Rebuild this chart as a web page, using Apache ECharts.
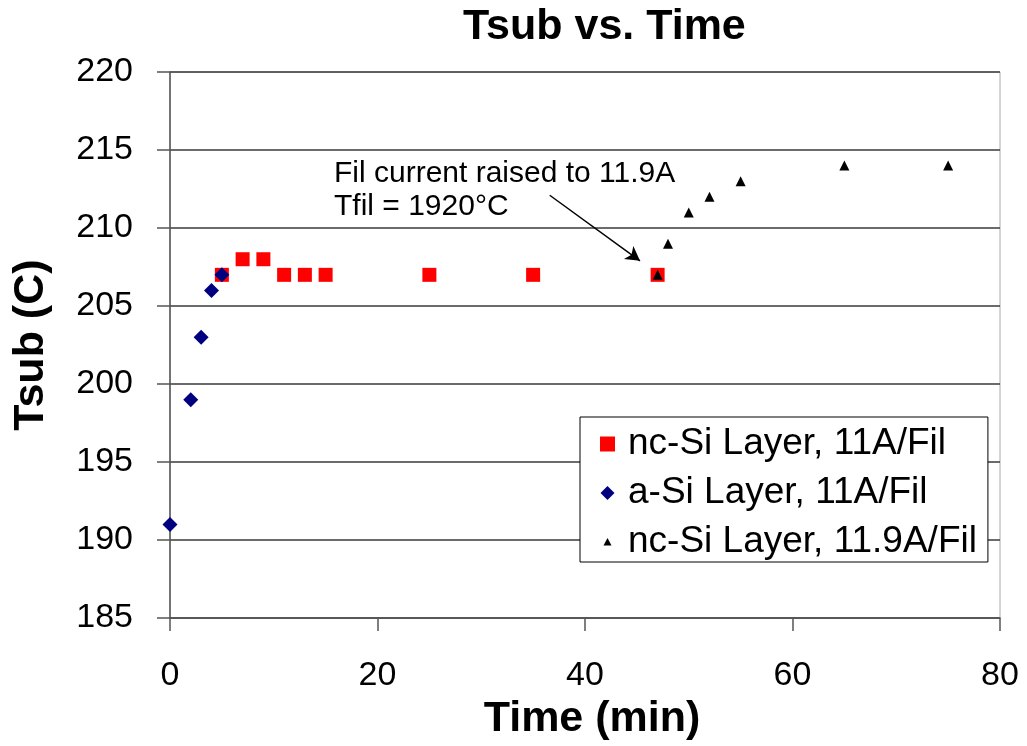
<!DOCTYPE html>
<html>
<head>
<meta charset="utf-8">
<script src="https://cdn.jsdelivr.net/npm/echarts@6/dist/echarts.min.js"></script>
<style>
  html, body { margin: 0; padding: 0; background: #fff; }
  #chart { width: 1027px; height: 746px; }
</style>
</head>
<body>
<div id="chart"></div>
<script>
// Substrate temperature readings over deposition time
const ncSi11Time = [5, 7, 9, 11, 13, 15, 25, 35, 47];
const ncSi11Temp = [207, 208, 208, 207, 207, 207, 207, 207, 207];

const aSi11Time = [0, 2, 3, 4, 5];
const aSi11Temp = [191, 199, 203, 206, 207];

const ncSi119Time = [47, 48, 50, 52, 55, 65, 75];
const ncSi119Temp = [207, 209, 211, 212, 213, 214, 214];

const seriesNames = ['nc-Si Layer, 11A/Fil', 'a-Si Layer, 11A/Fil', 'nc-Si Layer, 11.9A/Fil'];

// Arrow pointing to the moment the filament current was raised
const arrowFrom = [36.6, 212.1];
const arrowTo = [45.3, 207.9];

const pairs = (xs, ys) => xs.map((x, i) => [x, ys[i]]);

const FONT = '"Liberation Sans", Arial, sans-serif';
const boldName = { fontFamily: FONT, fontSize: 43, fontWeight: 'bold', color: '#000', verticalAlign: 'middle' };

// Legend icons drawn inside a 15x15 box so each keeps its own size
const ICON_SQUARE = 'path://M0,0 L15,0 L15,15 L0,15 Z';
const ICON_DIAMOND = 'path://M0,0 M15,15 M7.5,0.5 L14.5,7.5 L7.5,14.5 L0.5,7.5 Z';
const ICON_TRIANGLE = 'path://M0,0 M15,15 M7.5,3.5 L11.5,11 L3.5,11 Z';

const chart = echarts.init(document.getElementById('chart'), null, { renderer: 'canvas' });

chart.setOption({
  animation: false,
  backgroundColor: '#fff',
  title: {
    text: 'Tsub vs. Time',
    left: 463,
    top: 6,
    padding: 0,
    textStyle: { fontFamily: FONT, fontSize: 43, fontWeight: 'bold', color: '#000' }
  },
  grid: {
    left: 170, right: 27, top: 72, bottom: 117,
    show: true, borderColor: '#aaa', borderWidth: 1, backgroundColor: 'transparent'
  },
  xAxis: {
    type: 'value',
    min: 0, max: 80, interval: 20,
    name: 'Time (min)',
    nameLocation: 'middle',
    nameGap: 88,
    nameTextStyle: Object.assign({}, boldName, { padding: [0, 0, 0, 14] }),
    axisLine: { show: true, onZero: false, lineStyle: { color: '#555', width: 1.5 } },
    axisTick: { show: true, inside: false, length: 13, lineStyle: { color: '#555', width: 1.5 } },
    axisLabel: { fontFamily: FONT, fontSize: 34, color: '#000', margin: 41 },
    splitLine: { show: false }
  },
  yAxis: {
    type: 'value',
    min: 185, max: 220, interval: 5,
    name: 'Tsub (C)',
    nameLocation: 'middle',
    nameRotate: 90,
    nameGap: 139,
    nameTextStyle: boldName,
    axisLine: { show: true, onZero: false, lineStyle: { color: '#555', width: 1.5 } },
    axisTick: { show: true, inside: false, length: 13, lineStyle: { color: '#555', width: 1.5 } },
    axisLabel: { fontFamily: FONT, fontSize: 34, color: '#000', margin: 37 },
    splitLine: { show: true, lineStyle: { color: '#3a3a3a', width: 1.5 } }
  },
  legend: {
    orient: 'vertical',
    left: 580,
    top: 417,
    backgroundColor: '#fff',
    borderColor: '#000',
    borderWidth: 1,
    padding: [7, 11, 0, 20],
    itemGap: 9,
    itemWidth: 15,
    itemHeight: 15,
    textStyle: { fontFamily: FONT, fontSize: 37, lineHeight: 40, color: '#000', padding: [0, 0, 0, 8] },
    data: [
      { name: seriesNames[0], icon: ICON_SQUARE },
      { name: seriesNames[1], icon: ICON_DIAMOND },
      { name: seriesNames[2], icon: ICON_TRIANGLE }
    ]
  },
  graphic: [
    {
      type: 'text',
      left: 334,
      top: 157,
      z: 10,
      style: {
        text: 'Fil current raised to 11.9A\nTfil = 1920°C',
        font: '30px "Liberation Sans", Arial, sans-serif',
        fill: '#000',
        lineHeight: 33
      }
    }
  ],
  series: [
    {
      name: seriesNames[0],
      type: 'scatter',
      symbol: 'rect',
      symbolSize: 14,
      itemStyle: { color: '#ff0000', opacity: 1 },
      data: pairs(ncSi11Time, ncSi11Temp),
      z: 2
    },
    {
      name: seriesNames[1],
      type: 'scatter',
      symbol: 'diamond',
      symbolSize: 15,
      itemStyle: { color: '#000080', opacity: 1 },
      data: pairs(aSi11Time, aSi11Temp),
      z: 3
    },
    {
      name: seriesNames[2],
      type: 'scatter',
      symbol: 'triangle',
      symbolSize: 10,
      itemStyle: { color: '#000', opacity: 1 },
      data: pairs(ncSi119Time, ncSi119Temp),
      z: 4,
      markLine: {
        silent: true,
        symbol: ['none', 'arrow'],
        symbolSize: [12, 14],
        label: { show: false },
        lineStyle: { color: '#000', width: 1.5, type: 'solid' },
        data: [[{ coord: arrowFrom }, { coord: arrowTo }]]
      }
    }
  ]
});
</script>
</body>
</html>
